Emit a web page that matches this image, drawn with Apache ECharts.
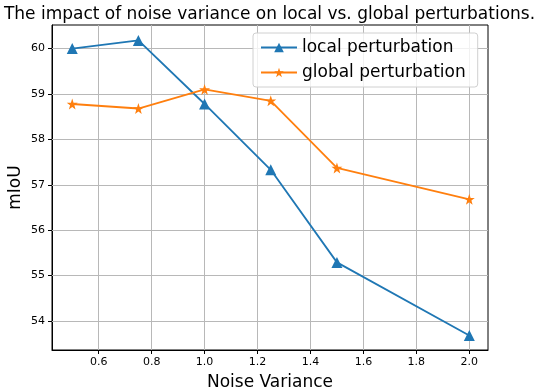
<!DOCTYPE html>
<html><head><meta charset="utf-8">
<script src="https://cdn.jsdelivr.net/npm/echarts@6/dist/echarts.min.js"></script>
<style>html,body{margin:0;padding:0;background:#fff}#c{width:539px;height:389px}</style>
</head><body><div id="c"></div>
<script>
const xValues = [0.5, 0.75, 1.0, 1.25, 1.5, 2.0];
const localPerturbation = [60.0, 60.18, 58.78, 57.33, 55.29, 53.68];
const globalPerturbation = [58.78, 58.68, 59.1, 58.85, 57.37, 56.68];
const xTicks = [0.6, 0.8, 1.0, 1.2, 1.4, 1.6, 1.8, 2.0];
const yTicks = [54, 55, 56, 57, 58, 59, 60];

const font = 'DejaVu Sans';
const chart = echarts.init(document.getElementById('c'), null, {renderer: 'canvas'});
chart.setOption({
  animation: false,
  backgroundColor: '#fff',
  textStyle: {fontFamily: font},
  title: {
    text: 'The impact of noise variance on local vs. global perturbations.',
    left: 'center', top: 1,
    textStyle: {fontFamily: font, fontSize: 17, fontWeight: 'normal', color: '#000'}
  },
  grid: {left: 52, right: 51, top: 25, bottom: 39, show: true, borderColor: '#000', borderWidth: 1,
    backgroundColor: 'transparent', containLabel: false, outerBoundsMode: 'none'},
  legend: {
    left: 253, top: 33, orient: 'vertical',
    itemWidth: 36, itemHeight: 12, itemGap: 8,
    padding: [6, 12, 6, 7],
    borderColor: '#d0d0d0', borderWidth: 1, borderRadius: 3,
    backgroundColor: 'rgba(255,255,255,0.8)',
    textStyle: {fontFamily: font, fontSize: 17, color: '#000'},
    data: ['local perturbation', 'global perturbation']
  },
  xAxis: {
    type: 'value', min: 0.4236, max: 2.0707,
    name: 'Noise Variance', nameLocation: 'middle', nameGap: 24, nameMoveOverlap: false,
    nameTextStyle: {fontFamily: font, fontSize: 17, color: '#000'},
    axisLine: {show: true, lineStyle: {color: '#000'}},
    axisTick: {show: true, inside: false, length: 4, lineStyle: {color: '#000'}, customValues: xTicks},
    axisLabel: {fontFamily: font, fontSize: 11, color: '#000', margin: 7, customValues: xTicks,
      formatter: v => v.toFixed(1)},
    splitLine: {show: false}
  },
  yAxis: {
    type: 'value', min: 53.36, max: 60.52,
    name: 'mIoU', nameLocation: 'middle', nameGap: 28, nameRotate: 90, nameMoveOverlap: false,
    nameTextStyle: {fontFamily: font, fontSize: 17, color: '#000'},
    axisLine: {show: true, lineStyle: {color: '#000'}},
    axisTick: {show: true, inside: false, length: 4, lineStyle: {color: '#000'}, customValues: yTicks},
    axisLabel: {fontFamily: font, fontSize: 11, color: '#000', margin: 7, customValues: yTicks,
      formatter: v => String(Math.round(v))},
    splitLine: {show: false}
  },
  series: [
    {
      name: 'local perturbation', type: 'line',
      data: xValues.map((x, i) => [x, localPerturbation[i]]),
      symbol: 'triangle', symbolSize: 11, showAllSymbol: true,
      lineStyle: {color: '#1f77b4', width: 1.8},
      itemStyle: {color: '#1f77b4'},
      z: 3,
      markLine: {
        silent: true, symbol: 'none', label: {show: false},
        lineStyle: {color: '#b8b8b8', width: 1, type: 'solid'},
        z: 1,
        data: xTicks.map(v => ({xAxis: v})).concat(yTicks.map(v => ({yAxis: v})))
      }
    },
    {
      name: 'global perturbation', type: 'line',
      data: xValues.map((x, i) => [x, globalPerturbation[i]]),
      symbol: 'path://M50,0 L61.8,35.1 L98.5,35.1 L68.8,56.9 L79.4,91.9 L50,70.3 L20.6,91.9 L31.2,56.9 L1.5,35.1 L38.2,35.1 Z',
      symbolSize: 11, showAllSymbol: true,
      lineStyle: {color: '#ff7f0e', width: 1.8},
      itemStyle: {color: '#ff7f0e'},
      z: 3
    }
  ]
});
</script></body></html>
